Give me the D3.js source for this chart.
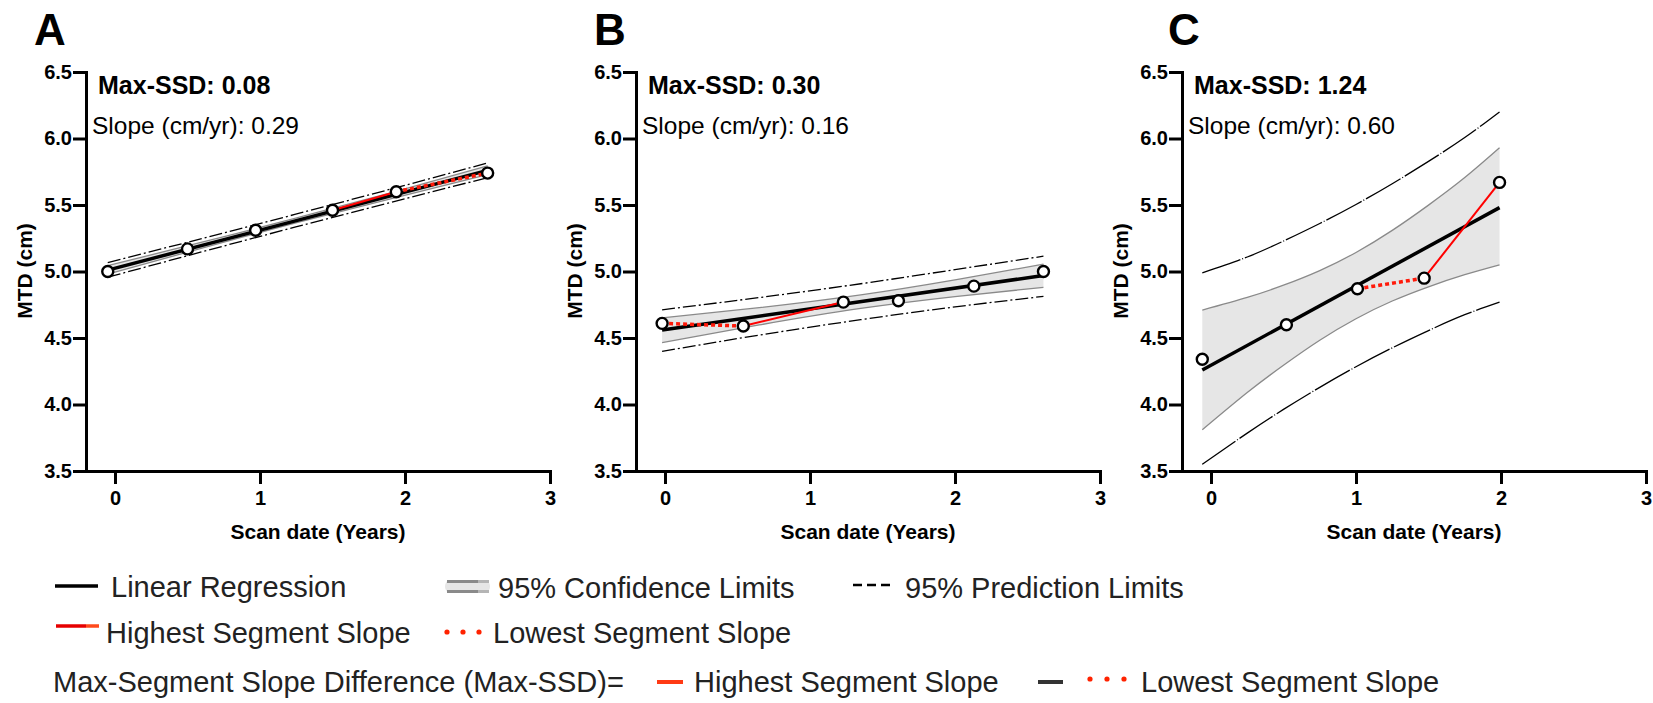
<!DOCTYPE html>
<html>
<head>
<meta charset="utf-8">
<script src="https://cdn.jsdelivr.net/npm/d3@7"></script>
<style>
  body { margin: 0; background: #fff; }
  text { font-family: "Liberation Sans", Arial, Helvetica, sans-serif; }
</style>
</head>
<body>
<script>
// panel labels and annotations
var panelLetters = ["A", "B", "C"];
var maxSSD = ["0.08", "0.30", "1.24"];
var slopes = ["0.29", "0.16", "0.60"];

// axis ticks
var yTicks = [3.5, 4.0, 4.5, 5.0, 5.5, 6.0, 6.5];
var xTicks = [0, 1, 2, 3];

// scan date (years) and MTD (cm) for each case
var scanA = [-0.05, 0.50, 0.97, 1.50, 1.94, 2.57];
var mtdA  = [5.00, 5.17, 5.31, 5.46, 5.60, 5.74];
var scanB = [-0.02, 0.54, 1.23, 1.61, 2.13, 2.61];
var mtdB  = [4.61, 4.59, 4.77, 4.78, 4.89, 5.00];
var scanC = [-0.06, 0.52, 1.01, 1.47, 1.99];
var mtdC  = [4.34, 4.60, 4.87, 4.95, 5.67];

// regression line end points
var fitXA = [-0.05, 2.57], fitYA = [5.01, 5.76];
var fitXB = [-0.02, 2.61], fitYB = [4.56, 4.97];
var fitXC = [-0.06, 1.99], fitYC = [4.26, 5.48];

// confidence / prediction limits read along x
var bandXA = [-0.05, 0.6, 1.24, 1.9, 2.57];
var ciHiA = [5.044, 5.220, 5.399, 5.592, 5.794];
var ciLoA = [4.980, 5.176, 5.363, 5.546, 5.728];
var piHiA = [5.067, 5.248, 5.429, 5.619, 5.816];
var piLoA = [4.957, 5.148, 5.333, 5.519, 5.706];

var bandXB = [-0.02, 0.65, 1.35, 2.0, 2.61];
var ciHiB = [4.652, 4.728, 4.824, 4.937, 5.055];
var ciLoB = [4.466, 4.598, 4.722, 4.811, 4.881];
var piHiB = [4.712, 4.804, 4.908, 5.014, 5.115];
var piLoB = [4.400, 4.522, 4.638, 4.734, 4.813];

var bandXC = [-0.06, 0.25, 0.5, 0.75, 1.0, 1.25, 1.5, 1.75, 1.99];
var ciHiC = [4.71, 4.805, 4.897, 5.007, 5.143, 5.309, 5.499, 5.706, 5.93];
var ciLoC = [3.81, 4.090, 4.295, 4.483, 4.645, 4.778, 4.885, 4.976, 5.05];
var piHiC = [4.99, 5.109, 5.229, 5.361, 5.504, 5.660, 5.828, 6.007, 6.20];
var piLoC = [3.55, 3.785, 3.963, 4.129, 4.284, 4.426, 4.556, 4.675, 4.77];

// start index of highest / lowest segment slope
var hiSeg = [3, 1, 3];
var loSeg = [4, 0, 2];

var panels = [
  {scan: scanA, mtd: mtdA, fitX: fitXA, fitY: fitYA, bx: bandXA, ciHi: ciHiA, ciLo: ciLoA, piHi: piHiA, piLo: piLoA, dash: "13,3,2,3"},
  {scan: scanB, mtd: mtdB, fitX: fitXB, fitY: fitYB, bx: bandXB, ciHi: ciHiB, ciLo: ciLoB, piHi: piHiB, piLo: piLoB, dash: "13,3,2,3"},
  {scan: scanC, mtd: mtdC, fitX: fitXC, fitY: fitYC, bx: bandXC, ciHi: ciHiC, ciLo: ciLoC, piHi: piHiC, piLo: piLoC, dash: "40,2,1,2"}
];

var svg = d3.select("body").append("svg")
  .attr("width", 1653)
  .attr("height", 703);

svg.append("rect").attr("width", 1653).attr("height", 703).attr("fill", "#fff");

var axisLeftX = [86, 636, 1182];
var letterX = [34, 594, 1168];
var plotW = 464;

var y = d3.scaleLinear().domain([3.5, 6.5]).range([471, 72]);

panels.forEach(function(p, k) {
  var x0 = axisLeftX[k];
  var x = d3.scaleLinear().domain([-0.2, 3]).range([x0, x0 + plotW]);
  var g = svg.append("g");

  var pts = p.bx.map(function(d, i) {
    return {x: d, ciHi: p.ciHi[i], ciLo: p.ciLo[i], piHi: p.piHi[i], piLo: p.piLo[i]};
  });

  // confidence band
  g.append("path")
    .datum(pts)
    .attr("fill", "#e6e6e6")
    .attr("d", d3.area().curve(d3.curveNatural)
      .x(function(d) { return x(d.x); })
      .y0(function(d) { return y(d.ciLo); })
      .y1(function(d) { return y(d.ciHi); }));

  ["ciHi", "ciLo"].forEach(function(key) {
    g.append("path")
      .datum(pts)
      .attr("fill", "none")
      .attr("stroke", "#8a8a8a")
      .attr("stroke-width", 1.3)
      .attr("d", d3.line().curve(d3.curveNatural)
        .x(function(d) { return x(d.x); })
        .y(function(d) { return y(d[key]); }));
  });

  // prediction limits
  ["piHi", "piLo"].forEach(function(key) {
    g.append("path")
      .datum(pts)
      .attr("fill", "none")
      .attr("stroke", "#000")
      .attr("stroke-width", 1.3)
      .attr("stroke-dasharray", p.dash)
      .attr("d", d3.line().curve(d3.curveNatural)
        .x(function(d) { return x(d.x); })
        .y(function(d) { return y(d[key]); }));
  });

  // regression line
  g.append("line")
    .attr("x1", x(p.fitX[0])).attr("y1", y(p.fitY[0]))
    .attr("x2", x(p.fitX[1])).attr("y2", y(p.fitY[1]))
    .attr("stroke", "#000")
    .attr("stroke-width", 3.5);

  // highest / lowest segment slopes
  var h = hiSeg[k], l = loSeg[k];
  g.append("line")
    .attr("x1", x(p.scan[h])).attr("y1", y(p.mtd[h]))
    .attr("x2", x(p.scan[h + 1])).attr("y2", y(p.mtd[h + 1]))
    .attr("stroke", "#ff0000")
    .attr("stroke-width", 2);
  g.append("line")
    .attr("x1", x(p.scan[l])).attr("y1", y(p.mtd[l]))
    .attr("x2", x(p.scan[l + 1])).attr("y2", y(p.mtd[l + 1]))
    .attr("stroke", "#ff1a0a")
    .attr("stroke-width", 3.5)
    .attr("stroke-dasharray", "4,3");

  // data points
  g.selectAll("circle")
    .data(p.scan)
    .enter()
    .append("circle")
    .attr("cx", function(d) { return x(d); })
    .attr("cy", function(d, i) { return y(p.mtd[i]); })
    .attr("r", 5.5)
    .attr("fill", "#fff")
    .attr("stroke", "#000")
    .attr("stroke-width", 2.4);

  // axes
  var yAxis = g.append("g")
    .attr("transform", "translate(" + x0 + ",0)")
    .call(d3.axisLeft(y).tickValues(yTicks).tickSize(13).tickSizeOuter(0)
      .tickPadding(1).tickFormat(d3.format(".1f")));
  var xAxis = g.append("g")
    .attr("transform", "translate(0,471)")
    .call(d3.axisBottom(x).tickValues(xTicks).tickSize(13).tickSizeOuter(0)
      .tickPadding(7).tickFormat(d3.format("d")));

  [yAxis, xAxis].forEach(function(ax) {
    ax.attr("font-family", null);
    ax.select(".domain").attr("stroke-width", 3).attr("stroke-linecap", "square");
    ax.selectAll(".tick line").attr("stroke-width", 3);
    ax.selectAll(".tick text")
      .attr("font-size", 20)
      .attr("font-weight", "bold")
      .attr("fill", "#000");
  });

  // axis titles
  g.append("text")
    .attr("x", x0 + plotW / 2)
    .attr("y", 539)
    .attr("text-anchor", "middle")
    .attr("font-size", 21)
    .attr("font-weight", "bold")
    .text("Scan date (Years)");

  g.append("text")
    .attr("transform", "translate(" + (x0 - 54) + "," + 271 + ") rotate(-90)")
    .attr("text-anchor", "middle")
    .attr("font-size", 21)
    .attr("font-weight", "bold")
    .text("MTD (cm)");

  // annotations
  g.append("text")
    .attr("x", letterX[k])
    .attr("y", 45)
    .attr("font-size", 44)
    .attr("font-weight", "bold")
    .text(panelLetters[k]);

  g.append("text")
    .attr("x", x0 + 12)
    .attr("y", 94)
    .attr("font-size", 25)
    .attr("font-weight", "bold")
    .text("Max-SSD: " + maxSSD[k]);

  g.append("text")
    .attr("x", x0 + 6)
    .attr("y", 134)
    .attr("font-size", 24.5)
    .text("Slope (cm/yr): " + slopes[k]);
});

// legend
var leg = svg.append("g")
  .attr("font-size", 29)
  .attr("fill", "#222");

function legText(tx, ty, s) {
  leg.append("text").attr("x", tx).attr("y", ty).attr("fill", "#222").text(s);
}
function legLine(xa, xb, ly, color, w, dash) {
  leg.append("line")
    .attr("x1", xa).attr("x2", xb).attr("y1", ly).attr("y2", ly)
    .attr("stroke", color).attr("stroke-width", w)
    .attr("stroke-dasharray", dash || null);
}
function legDots(xs, ly) {
  xs.forEach(function(cx) {
    leg.append("circle").attr("cx", cx).attr("cy", ly).attr("r", 2.6).attr("fill", "#ff2200");
  });
}

// row 1
legLine(55, 98, 586, "#000", 3.5);
legText(111, 597, "Linear Regression");
leg.append("rect").attr("x", 445).attr("y", 580).attr("width", 45).attr("height", 13)
  .attr("rx", 6).attr("fill", "#e6e6e6");
legLine(447, 478, 581.5, "#8a8a8a", 3);
legLine(478, 489, 581.5, "#b5b5b5", 3);
legLine(447, 478, 591.5, "#8a8a8a", 3);
legLine(478, 489, 591.5, "#b5b5b5", 3);
legText(498, 598, "95% Confidence Limits");
legLine(853, 892, 585, "#000", 2.5, "9,5");
legText(905, 598, "95% Prediction Limits");

// row 2
legLine(56, 86, 626, "#e60000", 3.5);
legLine(86, 99, 626, "#ff4a1c", 3.5);
legText(106, 643, "Highest Segment Slope");
legDots([447, 463, 479], 632);
legText(493, 643, "Lowest Segment Slope");

// row 3
legText(53, 692, "Max-Segment Slope Difference (Max-SSD)=");
legLine(657, 683, 682, "#ff3a14", 4);
legText(694, 692, "Highest Segment Slope");
legLine(1038, 1063, 682, "#333", 4);
legDots([1090, 1107, 1124], 679);
legText(1141, 692, "Lowest Segment Slope");
</script>
</body>
</html>
